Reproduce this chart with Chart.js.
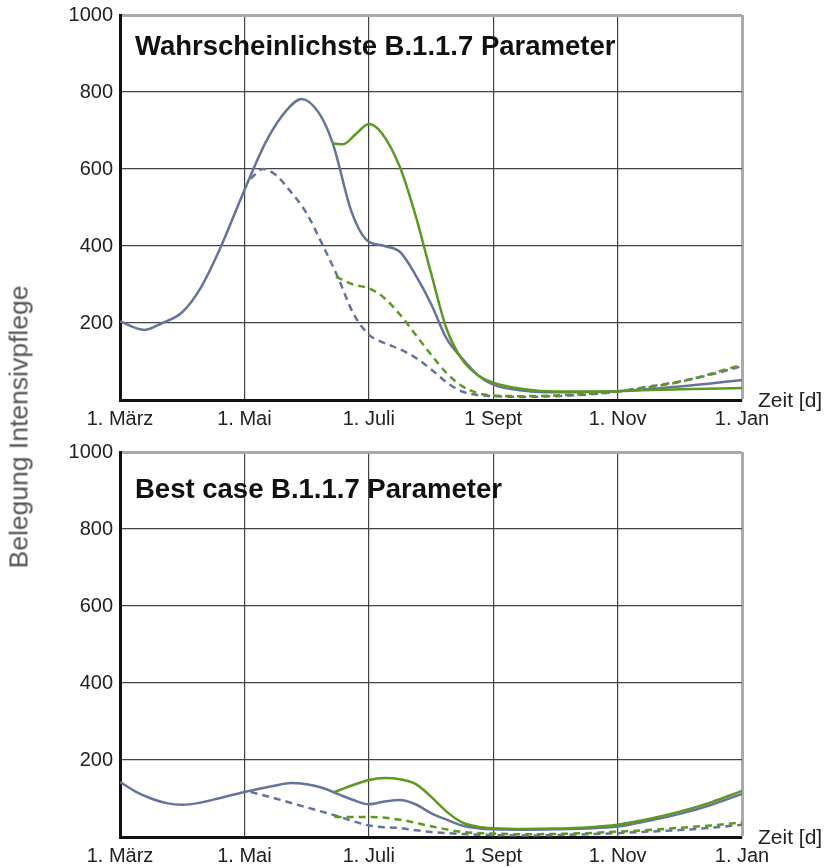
<!DOCTYPE html>
<html>
<head>
<meta charset="utf-8">
<script src="https://cdn.jsdelivr.net/npm/chart.js@4.4.1/dist/chart.umd.min.js"></script>
<style>
body { margin:0; background:#fff; width:827px; height:867px; position:relative; overflow:hidden; font-family:"Liberation Sans", Arial, sans-serif; }
canvas { position:absolute; left:0; }
.title { position:absolute; left:135px; font-weight:bold; font-size:27.5px; line-height:1; color:#111; white-space:nowrap; }
.xlab { position:absolute; left:758px; font-size:21px; line-height:1; color:#222; }
#ylab { position:absolute; left:19px; top:427px; transform:translate(-50%,-50%) rotate(-90deg); font-size:26.5px; color:#555; white-space:nowrap; }
</style>
</head>
<body>
<canvas id="top" width="827" height="430" style="top:0px"></canvas>
<canvas id="bottom" width="827" height="430" style="top:437px"></canvas>
<div class="title" style="top:32px">Wahrscheinlichste B.1.1.7 Parameter</div>
<div class="title" style="top:475px">Best case B.1.1.7 Parameter</div>
<div class="xlab" style="top:389px">Zeit [d]</div>
<div class="xlab" style="top:826px">Zeit [d]</div>
<div id="ylab">Belegung Intensivpflege</div>
<script>
// months since 1. März
var monthTicks = [0, 2, 4, 6, 8, 10];
var tickLabels = ["1. März", "1. Mai", "1. Juli", "1 Sept", "1. Nov", "1. Jan"];

// Wahrscheinlichste B.1.1.7 Parameter
var topBlueX = [0, 0.39, 0.68, 1.0, 1.3, 1.6, 2.0, 2.36, 2.68, 2.92, 3.2, 3.42, 3.72, 3.95, 4.25, 4.5, 4.75, 5.0, 5.25, 5.5, 5.75, 6.0, 6.5, 7.0, 8.0, 9.0, 10];
var topBlueY = [204, 182, 200, 228, 292, 390, 545, 675, 753, 782, 745, 667, 490, 418, 400, 385, 325, 250, 160, 108, 65, 40, 24, 20, 23, 35, 52];
var topGreenX = [3.42, 3.58, 3.8, 4.0, 4.2, 4.5, 4.75, 5.0, 5.25, 5.5, 5.75, 6.0, 6.5, 7.0, 8.0, 9.0, 10];
var topGreenY = [667, 664, 692, 717, 695, 605, 480, 330, 185, 105, 65, 45, 28, 22, 23, 28, 31];
var topBlueDashX = [2.1, 2.3, 2.5, 2.75, 3.0, 3.25, 3.5, 3.75, 4.0, 4.25, 4.5, 4.75, 5.0, 5.25, 5.5, 5.75, 6.0, 6.5, 7.0, 7.5, 8.0, 8.5, 9.0, 9.5, 10];
var topBlueDashY = [575, 600, 585, 540, 485, 405, 320, 225, 170, 148, 132, 110, 80, 46, 22, 13, 10, 8, 10, 14, 22, 35, 48, 66, 88];
var topGreenDashX = [3.47, 3.75, 4.0, 4.25, 4.5, 4.75, 5.0, 5.25, 5.5, 5.75, 6.0, 6.5, 7.0, 7.5, 8.0, 8.5, 9.0, 9.5, 10];
var topGreenDashY = [320, 300, 290, 265, 222, 170, 118, 70, 36, 18, 12, 10, 12, 16, 22, 33, 47, 68, 92];

// Best case B.1.1.7 Parameter
var botBlueX = [0, 0.25, 0.5, 0.75, 1.0, 1.25, 1.5, 2.0, 2.5, 2.75, 3.0, 3.25, 3.5, 3.75, 4.0, 4.25, 4.5, 4.75, 5.0, 5.25, 5.5, 5.75, 6.0, 6.5, 7.0, 7.5, 8.0, 8.5, 9.0, 9.5, 10];
var botBlueY = [143, 118, 100, 88, 84, 88, 97, 117, 134, 140, 137, 128, 112, 96, 85, 92, 96, 85, 62, 45, 30, 23, 20, 19, 20, 22, 27, 42, 60, 83, 112];
var botGreenX = [3.45, 3.75, 4.0, 4.25, 4.5, 4.75, 5.0, 5.25, 5.5, 5.75, 6.0, 6.5, 7.0, 7.5, 8.0, 8.5, 9.0, 9.5, 10];
var botGreenY = [117, 135, 148, 153, 150, 138, 105, 66, 38, 27, 23, 21, 22, 25, 32, 47, 66, 90, 120];
var botBlueDashX = [2.1, 2.5, 3.0, 3.5, 4.0, 4.5, 5.0, 5.5, 6.0, 6.5, 7.0, 7.5, 8.0, 8.5, 9.0, 9.5, 10];
var botBlueDashY = [117, 100, 77, 54, 30, 23, 13, 8, 5, 4, 5, 7, 10, 14, 18, 24, 32];
var botGreenDashX = [3.45, 4.0, 4.5, 5.0, 5.5, 6.0, 6.5, 7.0, 7.5, 8.0, 8.5, 9.0, 9.5, 10];
var botGreenDashY = [52, 52, 45, 28, 13, 9, 7, 8, 10, 14, 18, 24, 30, 38];

var blue = "#66749b";
var green = "#5b9a1e";
var fontFamily = "'Liberation Sans', Arial, sans-serif";

function pts(xs, ys) {
    return xs.map(function (x, i) { return { x: x, y: ys[i] }; });
}

function line(xs, ys, color, dashed) {
    return {
        data: pts(xs, ys),
        borderColor: color,
        borderWidth: 2.5,
        borderDash: dashed ? [7, 5] : [],
        pointRadius: 0,
        fill: false,
        cubicInterpolationMode: "monotone",
    };
}

function makeChart(id, sets) {
    return new Chart(document.getElementById(id), {
        type: "line",
        data: { datasets: sets },
        options: {
            responsive: false,
            animation: false,
            layout: { padding: { top: 15, right: 85, left: 0, bottom: 0 } },
            plugins: { legend: { display: false }, tooltip: { enabled: false } },
            scales: {
                x: {
                    type: "linear",
                    min: 0,
                    max: 10,
                    afterBuildTicks: function (s) { s.ticks = monthTicks.map(function (v) { return { value: v }; }); },
                    afterFit: function (s) { s.height = 30; },
                    ticks: {
                        autoSkip: false,
                        maxRotation: 0,
                        padding: 7,
                        color: "#222",
                        font: { size: 20, family: fontFamily },
                        callback: function (v) { return tickLabels[monthTicks.indexOf(v)]; },
                    },
                    grid: {
                        drawTicks: false,
                        color: function (c) { return c.tick && c.tick.value === 10 ? "#aaa" : "#444"; },
                        lineWidth: function (c) { return c.tick && c.tick.value === 10 ? 3 : 1.2; },
                    },
                    border: { color: "#111", width: 3 },
                },
                y: {
                    min: 0,
                    max: 1000,
                    afterFit: function (s) { s.width = 120; },
                    ticks: {
                        stepSize: 200,
                        padding: 7,
                        color: "#222",
                        font: { size: 20, family: fontFamily, lineHeight: 0.8 },
                        callback: function (v) { return v === 0 ? "" : v; },
                    },
                    grid: {
                        drawTicks: false,
                        color: function (c) { return c.tick && c.tick.value === 1000 ? "#aaa" : "#444"; },
                        lineWidth: function (c) { return c.tick && c.tick.value === 1000 ? 3 : 1.2; },
                    },
                    border: { color: "#111", width: 3 },
                },
            },
        },
    });
}

makeChart("top", [
    line(topGreenDashX, topGreenDashY, green, true),
    line(topBlueDashX, topBlueDashY, blue, true),
    line(topGreenX, topGreenY, green, false),
    line(topBlueX, topBlueY, blue, false),
]);

makeChart("bottom", [
    line(botGreenDashX, botGreenDashY, green, true),
    line(botBlueDashX, botBlueDashY, blue, true),
    line(botGreenX, botGreenY, green, false),
    line(botBlueX, botBlueY, blue, false),
]);
</script>
</body>
</html>
